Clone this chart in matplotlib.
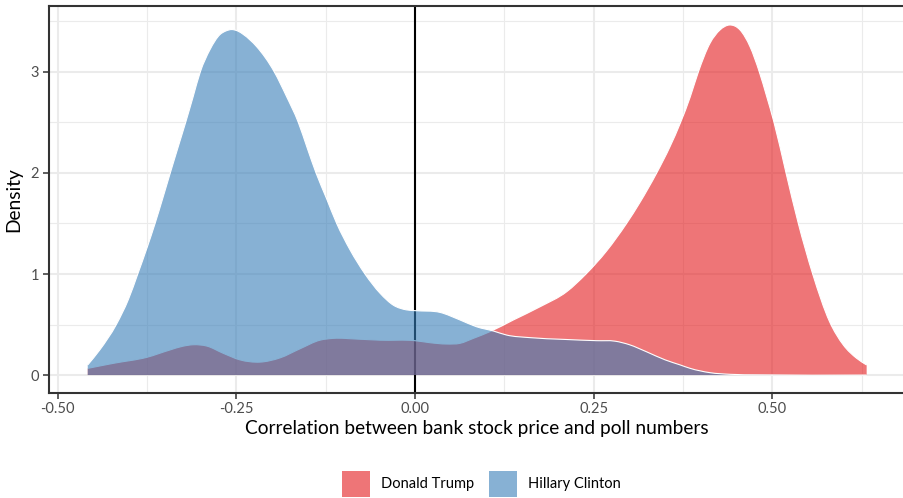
import matplotlib
matplotlib.use("Agg")
import matplotlib.pyplot as plt
from matplotlib.patches import Rectangle, PathPatch
from matplotlib.path import Path

plt.rcParams["font.family"] = ["Lato", "DejaVu Sans"]

# Density curves of the correlation between bank stock price and poll numbers
trump_x = [-0.458, -0.422, -0.3755, -0.343, -0.325, -0.310, -0.2915, -0.2683,
           -0.2449, -0.2169, -0.1889, -0.1609, -0.133, -0.1143, -0.0816, -0.049,
           0.0, 0.021, 0.044, 0.063, 0.0816, 0.105, 0.1376, 0.175, 0.2123,
           0.2393, 0.2683, 0.296, 0.3149, 0.3382, 0.3568, 0.3716, 0.385,
           0.3965, 0.4128, 0.4268, 0.440, 0.4548, 0.4688, 0.4818, 0.492,
           0.5024, 0.5192, 0.5364, 0.5565, 0.580, 0.5994, 0.6181, 0.632]
trump_d = [0.066, 0.116, 0.175, 0.248, 0.285, 0.300, 0.287, 0.215,
           0.150, 0.128, 0.170, 0.260, 0.345, 0.363, 0.356, 0.345,
           0.340, 0.320, 0.307, 0.314, 0.363, 0.430, 0.545, 0.676, 0.825,
           1.000, 1.230, 1.500, 1.710, 2.000, 2.260, 2.500, 2.750,
           3.000, 3.284, 3.416, 3.465, 3.416, 3.250, 3.000, 2.760,
           2.500, 2.000, 1.500, 1.000, 0.530, 0.297, 0.165, 0.099]

clinton_x = [-0.458, -0.441, -0.418, -0.401, -0.388, -0.3755, -0.3638, -0.353,
             -0.3425, -0.3318, -0.321, -0.3107, -0.3005, -0.287, -0.273, -0.265,
             -0.2565, -0.248, -0.240, -0.2216, -0.1969, -0.180, -0.1633, -0.151,
             -0.1385, -0.124, -0.1096, -0.091, -0.070, -0.049, -0.030, -0.012,
             0.001, 0.035, 0.063, 0.086, 0.110, 0.128, 0.161, 0.2075, 0.254,
             0.280, 0.300, 0.324, 0.350, 0.371, 0.385, 0.413, 0.441, 0.480, 0.632]
clinton_d = [0.100, 0.250, 0.500, 0.750, 1.000, 1.250, 1.500, 1.750,
             2.000, 2.250, 2.500, 2.750, 3.000, 3.220, 3.370, 3.405,
             3.420, 3.405, 3.370, 3.250, 3.000, 2.760, 2.500, 2.250,
             2.000, 1.750, 1.500, 1.240, 1.000, 0.810, 0.690, 0.645,
             0.637, 0.620, 0.545, 0.478, 0.435, 0.396, 0.370, 0.353, 0.340,
             0.335, 0.300, 0.230, 0.150, 0.100, 0.066, 0.023, 0.007, 0.002, 0.0]

series_names = ["Donald Trump", "Hillary Clinton"]
series_colors = ["#E41A1C", "#377EB8"]
fill_alpha = 0.6

x_major = [-0.50, -0.25, 0.00, 0.25, 0.50]
x_labels = ["-0.50", "-0.25", "0.00", "0.25", "0.50"]
x_minor = [-0.375, -0.125, 0.125, 0.375, 0.625]
y_major = [0, 1, 2, 3]
y_minor = [0.5, 1.5, 2.5, 3.5]


def smooth_curve(xs, ys):
    """Bezier path (cubic Hermite segments) passing through every point."""
    n = len(xs)
    h = [xs[i + 1] - xs[i] for i in range(n - 1)]
    sec = [(ys[i + 1] - ys[i]) / h[i] for i in range(n - 1)]
    m = [sec[0]]
    for i in range(1, n - 1):
        m.append((h[i - 1] * sec[i] + h[i] * sec[i - 1]) / (h[i - 1] + h[i]))
    m.append(sec[-1])
    verts = [(xs[0], ys[0])]
    codes = [Path.MOVETO]
    for i in range(n - 1):
        t = h[i] / 3.0
        verts += [(xs[i] + t, ys[i] + m[i] * t),
                  (xs[i + 1] - t, ys[i + 1] - m[i + 1] * t),
                  (xs[i + 1], ys[i + 1])]
        codes += [Path.CURVE4] * 3
    return verts, codes


W, H = 904, 498
fig = plt.figure(figsize=(W / 100, H / 100), dpi=100)

left_px, right_px, top_px, bot_px = 48.8, 905.6, 6.5, 392.5
ax = fig.add_axes([left_px / W, 1 - bot_px / H,
                   (right_px - left_px) / W, (bot_px - top_px) / H])
ax.set_xlim(-0.5125, 0.6865)
ax.set_ylim(-0.173, 3.648)

grid_col = "#EBEBEB"
for v in x_minor:
    ax.axvline(v, color=grid_col, lw=0.8, zorder=0)
for v in y_minor:
    ax.axhline(v, color=grid_col, lw=0.8, zorder=0)
for v in x_major:
    ax.axvline(v, color=grid_col, lw=1.5, zorder=0.5)
for v in y_major:
    ax.axhline(v, color=grid_col, lw=1.5, zorder=0.5)

ax.axvline(0, color="black", lw=1.5, zorder=1)

for xs, ds, col, z in [(trump_x, trump_d, series_colors[0], 2),
                        (clinton_x, clinton_d, series_colors[1], 3)]:
    verts, codes = smooth_curve(xs, ds)
    area_v = [(xs[0], 0.0)] + verts + [(xs[-1], 0.0), (xs[0], 0.0)]
    area_c = [Path.MOVETO, Path.LINETO] + codes[1:] + [Path.LINETO, Path.CLOSEPOLY]
    ax.add_patch(PathPatch(Path(area_v, area_c), facecolor=col,
                           alpha=fill_alpha, edgecolor="none", zorder=z))
    ax.add_patch(PathPatch(Path(verts, codes), facecolor="none",
                           edgecolor="white", lw=0.8, zorder=z + 0.1))

ax.set_xticks(x_major)
ax.set_xticklabels(x_labels)
ax.set_yticks(y_major)
ax.tick_params(axis="both", colors="#333333", labelcolor="#4D4D4D",
               labelsize=10.5, length=4, width=1.1, pad=3)
for s in ax.spines.values():
    s.set_color("#333333")
    s.set_linewidth(1.5)
    s.set_zorder(5)

ax.set_xlabel("Correlation between bank stock price and poll numbers",
              fontsize=13.8, color="black", labelpad=3)
ax.set_ylabel("Density", fontsize=13.8, color="black", labelpad=6)

# legend along the bottom
key_w, key_h = 28, 26
keys = [(342, series_names[0], series_colors[0]),
        (489, series_names[1], series_colors[1])]
for kx, name, col in keys:
    fig.add_artist(Rectangle((kx / W, 1 - 497 / H), key_w / W, key_h / H,
                             transform=fig.transFigure, facecolor=col,
                             alpha=fill_alpha, edgecolor="none"))
    fig.text((kx + key_w + 11) / W, 1 - 484 / H, name, fontsize=10.5,
             color="black", ha="left", va="center")

fig.savefig("out.png", dpi=100)
